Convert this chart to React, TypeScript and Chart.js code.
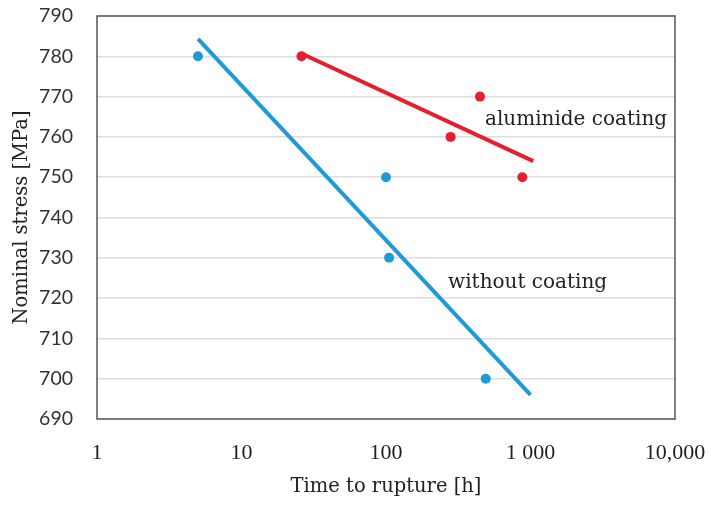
import { useEffect, useRef } from "react";
import { Chart, registerables } from "chart.js";

Chart.register(...registerables);

// ---- data ----
const xTickValues = [1, 10, 100, 1000, 10000];
const xTickLabels = ["1", "10", "100", "1 000", "10,000"];
const yMin = 690;
const yMax = 790;
const yStep = 10;

const uncoatedTime = [5, 100, 105, 490];
const uncoatedStress = [780, 750, 730, 700];
const uncoatedFitTime = [5, 1000];
const uncoatedFitStress = [784.3, 696];

const coatedTime = [26, 280, 447, 878];
const coatedStress = [780, 760, 770, 750];
const coatedFitTime = [26, 1045];
const coatedFitStress = [780.7, 754];

const annotationTexts = ["aluminide coating", "without coating"];
const annotationTimes = [484, 269];
const annotationStress = [763.0, 722.5];

const BLUE = "#1f9ad6";
const RED = "#e5202e";
const SERIF = "'DejaVu Serif', serif";

const zip = (xs: number[], ys: number[]) => xs.map((x, i) => ({ x, y: ys[i] }));

const framePlugin = {
  id: "frame",
  afterDatasetsDraw(chart: any) {
    const { ctx, chartArea, scales } = chart;
    ctx.save();
    ctx.strokeStyle = "#555555";
    ctx.lineWidth = 1.5;
    ctx.strokeRect(chartArea.left, chartArea.top, chartArea.right - chartArea.left, chartArea.bottom - chartArea.top);
    ctx.fillStyle = "#222222";
    ctx.font = `20px ${SERIF}`;
    ctx.textAlign = "left";
    ctx.textBaseline = "alphabetic";
    annotationTexts.forEach((t, i) => {
      const px = scales.x.getPixelForValue(annotationTimes[i]);
      const py = scales.y.getPixelForValue(annotationStress[i]);
      ctx.fillText(t, px, py);
    });
    ctx.restore();
  },
};

export default function App() {
  const ref = useRef<HTMLCanvasElement | null>(null);

  useEffect(() => {
    if (!ref.current) return;
    const chart = new Chart(ref.current, {
      type: "scatter",
      data: {
        datasets: [
          {
            data: zip(uncoatedFitTime, uncoatedFitStress),
            showLine: true,
            borderColor: BLUE,
            borderWidth: 4,
            pointRadius: 0,
          },
          {
            data: zip(coatedFitTime, coatedFitStress),
            showLine: true,
            borderColor: RED,
            borderWidth: 4,
            pointRadius: 0,
          },
          {
            data: zip(uncoatedTime, uncoatedStress),
            backgroundColor: BLUE,
            borderColor: BLUE,
            pointRadius: 5,
            borderWidth: 0,
          },
          {
            data: zip(coatedTime, coatedStress),
            backgroundColor: RED,
            borderColor: RED,
            pointRadius: 5,
            borderWidth: 0,
          },
        ],
      },
      options: {
        responsive: false,
        animation: false,
        layout: { padding: { top: 16, right: 36, left: 0, bottom: 0 } },
        plugins: { legend: { display: false }, tooltip: { enabled: false } },
        scales: {
          x: {
            type: "logarithmic",
            min: 1,
            max: 10000,
            afterBuildTicks: (scale: any) => {
              scale.ticks = xTickValues.map((v) => ({ value: v }));
            },
            afterFit: (scale: any) => {
              scale.height = 87;
              scale.paddingLeft = 0;
              scale.paddingRight = 0;
            },
            grid: { display: false, drawTicks: false },
            border: { display: false },
            ticks: {
              autoSkip: false,
              maxRotation: 0,
              padding: 21,
              color: "#222222",
              font: { family: "'Liberation Serif', serif", size: 22 },
              callback: (_v: any, i: number) => xTickLabels[i],
            },
            title: {
              display: true,
              text: "Time to rupture [h]",
              color: "#222222",
              font: { family: SERIF, size: 19.5 },
              padding: 7,
            },
          },
          y: {
            min: yMin,
            max: yMax,
            afterFit: (scale: any) => {
              scale.width = 97;
              scale.paddingTop = 0;
              scale.paddingBottom = 0;
            },
            grid: { color: "#dddddd", lineWidth: 1.5, drawTicks: false },
            border: { display: false },
            ticks: {
              stepSize: yStep,
              padding: 24,
              color: "#333333",
              font: { family: "Lato, sans-serif", size: 19.5 },
            },
            title: {
              display: true,
              text: "Nominal stress [MPa]",
              color: "#222222",
              font: { family: SERIF, size: 19.5 },
              padding: 10,
            },
          },
        },
      },
      plugins: [framePlugin],
    } as any);
    return () => chart.destroy();
  }, []);

  return (
    <div style={{ position: "absolute", left: 0, top: 0, width: 711, height: 506, background: "#fff" }}>
      <canvas ref={ref} width={711} height={506} />
    </div>
  );
}
